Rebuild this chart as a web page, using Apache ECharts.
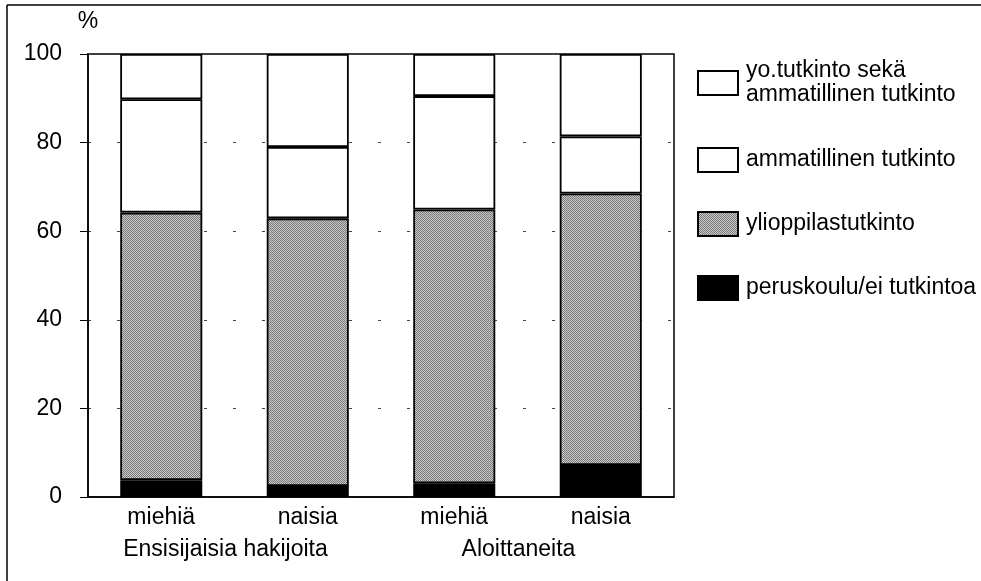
<!DOCTYPE html>
<html>
<head>
<meta charset="utf-8">
<script src="https://cdn.jsdelivr.net/npm/echarts@6/dist/echarts.min.js"></script>
<style>
html,body{margin:0;padding:0;background:#fff;}
#c{width:981px;height:581px;}
</style>
</head>
<body>
<div id="c"></div>
<script>
// ---- data ----
const categories = ['miehiä', 'naisia', 'miehiä', 'naisia'];
const groups = ['Ensisijaisia hakijoita', 'Aloittaneita'];
const peruskoulu = [3.8, 2.5, 3.1, 7.2];
const ylioppilas = [60.4, 60.4, 61.8, 61.3];
const ammatillinen = [25.6, 16.1, 25.6, 12.9];
const yoJaAmmatillinen = [10.2, 21.0, 9.5, 18.6];
const yTicks = [0, 20, 40, 60, 80, 100];
const seriesNames = ['yo.tutkinto sekä\nammatillinen tutkinto', 'ammatillinen tutkinto', 'ylioppilastutkinto', 'peruskoulu/ei tutkintoa'];

// halftone-like grey fill
const pc = document.createElement('canvas');
pc.width = 2; pc.height = 2;
const pctx = pc.getContext('2d');
pctx.fillStyle = '#c9c9c9'; pctx.fillRect(0, 0, 2, 2);
pctx.fillStyle = '#7a7a7a'; pctx.fillRect(0, 0, 1, 1); pctx.fillRect(1, 1, 1, 1);
const grey = { image: pc, repeat: 'repeat' };

const FONT = 'Liberation Sans';
const FS = 23;
const chart = echarts.init(document.getElementById('c'), null, { renderer: 'canvas' });

function bar(name, data, color, bw) {
  return {
    name: name, type: 'bar', stack: 'a', data: data, barWidth: '56%',
    itemStyle: { color: color, borderColor: '#000', borderWidth: bw },
    emphasis: { disabled: true }, animation: false
  };
}

chart.setOption({
  animation: false,
  backgroundColor: '#fff',
  textStyle: { fontFamily: FONT },
  graphic: [
    { type: 'line', shape: { x1: 7, y1: 5, x2: 981, y2: 5 }, style: { stroke: '#000', lineWidth: 1.5 } },
    { type: 'line', shape: { x1: 7, y1: 5, x2: 7, y2: 581 }, style: { stroke: '#000', lineWidth: 1.5 } }
  ],
  grid: { left: 88, right: 307, top: 54, bottom: 84, show: true, borderColor: '#000', borderWidth: 1.5, backgroundColor: 'transparent' },
  legend: [
    {
      orient: 'vertical', left: 692, top: 54, itemWidth: 40, itemHeight: 24,
      data: [seriesNames[0]], selectedMode: false, icon: 'rect',
      textStyle: { fontFamily: FONT, fontSize: FS, color: '#000', lineHeight: 24, padding: [0, 0, 0, 3] }
    },
    {
      orient: 'vertical', left: 692, top: 142, itemWidth: 40, itemHeight: 24, itemGap: 38,
      data: seriesNames.slice(1), selectedMode: false, icon: 'rect',
      textStyle: { fontFamily: FONT, fontSize: FS, color: '#000', lineHeight: 24, padding: [0, 0, 0, 3] }
    }
  ],
  xAxis: [
    {
      type: 'category', data: categories, position: 'bottom',
      axisLine: { lineStyle: { color: '#000', width: 1.5 } },
      axisTick: { show: false },
      axisLabel: { fontFamily: FONT, fontSize: FS, color: '#000', margin: 9 }
    },
    {
      type: 'category', data: groups, position: 'bottom', offset: 32,
      axisLine: { show: false }, axisTick: { show: false },
      axisLabel: { fontFamily: FONT, fontSize: FS, color: '#000', margin: 9, padding: [0, 18, 0, 0] }
    }
  ],
  yAxis: {
    type: 'value', min: yTicks[0], max: yTicks[yTicks.length - 1], interval: 20,
    name: '%', nameLocation: 'end', nameGap: 21,
    nameTextStyle: { fontFamily: FONT, fontSize: FS, color: '#000', align: 'center' },
    axisLine: { show: true, lineStyle: { color: '#000', width: 1.5 } },
    axisTick: { show: true, inside: false, length: 8, lineStyle: { color: '#000', width: 1 } },
    axisLabel: { fontFamily: FONT, fontSize: FS, color: '#000', margin: 26 },
    splitLine: { show: true, lineStyle: { color: '#444', width: 1, type: [3, 26] } }
  },
  series: [
    bar(seriesNames[3], peruskoulu, '#000', 1.8),
    bar(seriesNames[2], ylioppilas, grey, 1.8),
    bar(seriesNames[1], ammatillinen, '#fff', 1.8),
    bar(seriesNames[0], yoJaAmmatillinen, '#fff', 1.8)
  ]
});
</script>
</body>
</html>
